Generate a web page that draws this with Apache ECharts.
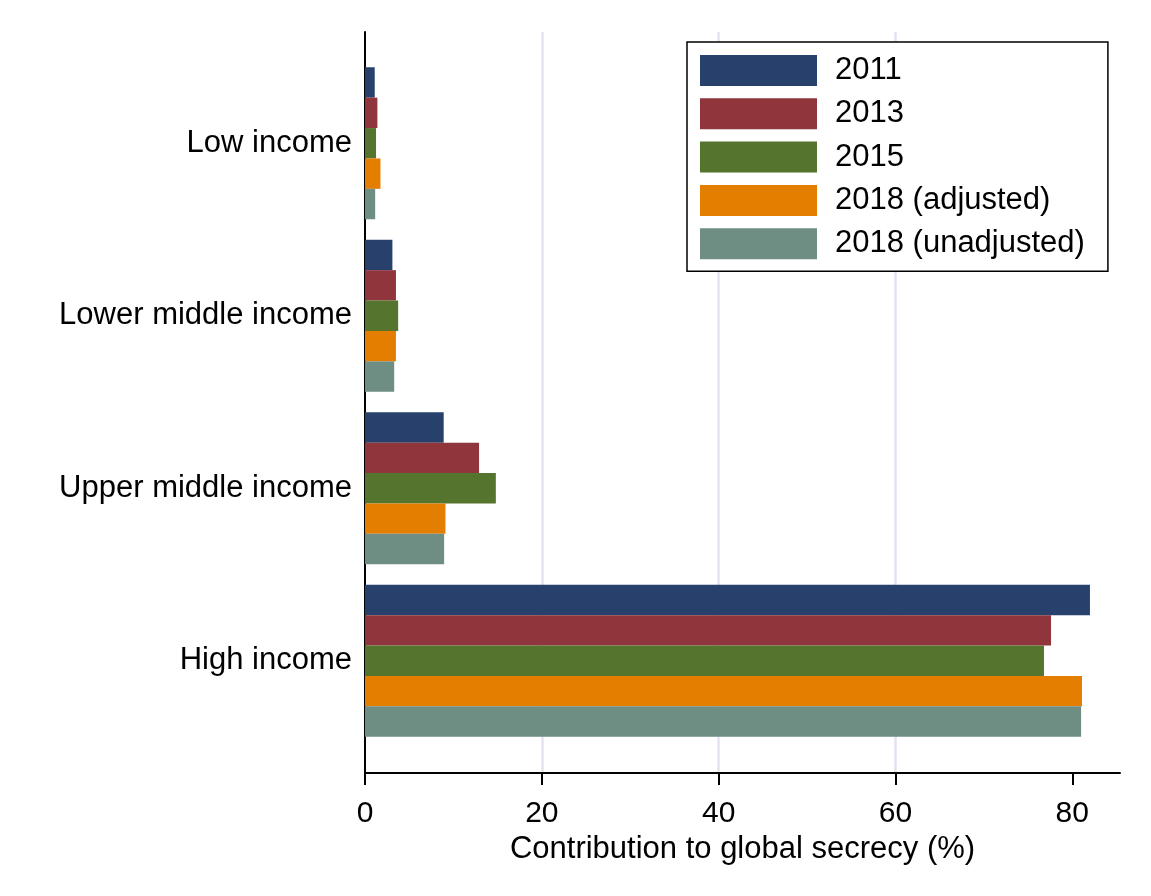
<!DOCTYPE html>
<html>
<head>
<meta charset="utf-8">
<script src="https://cdn.jsdelivr.net/npm/echarts@6/dist/echarts.min.js"></script>
<style>html,body{margin:0;padding:0;background:#fff}#c{width:1151px;height:896px}</style>
</head>
<body>
<div id="c"></div>
<script>
const categories = ['Low income', 'Lower middle income', 'Upper middle income', 'High income'];
const seriesNames = ['2011', '2013', '2015', '2018 (adjusted)', '2018 (unadjusted)'];
const v2011 = [1.1, 3.1, 8.9, 82.0];
const v2013 = [1.4, 3.5, 12.9, 77.6];
const v2015 = [1.25, 3.75, 14.8, 76.8];
const v2018adj = [1.75, 3.5, 9.1, 81.1];
const v2018unadj = [1.15, 3.3, 8.95, 81.0];
const xTicks = [0, 20, 40, 60, 80];
const axisTitle = 'Contribution to global secrecy (%)';

const values = [v2011, v2013, v2015, v2018adj, v2018unadj];
const colors = ['#27406c', '#90353b', '#55752f', '#e37e00', '#6e8e84'];
const FONT = 'Liberation Sans, Arial, sans-serif';
const XMAX = 85.4;

const chart = echarts.init(document.getElementById('c'), null, {renderer: 'canvas'});
chart.setOption({
  backgroundColor: '#fff',
  animation: false,
  textStyle: {fontFamily: FONT},
  grid: [
    {left: 365, right: 31, top: 57, bottom: 149},
    {left: 365, right: 31, top: 32, bottom: 123}
  ],
  legend: {
    orient: 'vertical',
    left: 687, top: 42,
    padding: [13, 23, 12, 13],
    borderColor: '#000', borderWidth: 1.5,
    backgroundColor: '#fff',
    itemWidth: 117, itemHeight: 31, itemGap: 12.3,
    icon: 'rect',
    data: seriesNames,
    textStyle: {fontSize: 31, color: '#000', fontFamily: FONT, padding: [4, 0, 0, 13]}
  },
  xAxis: [
    {gridIndex: 0, type: 'value', min: 0, max: XMAX, show: false},
    {gridIndex: 1, type: 'value', min: 0, max: XMAX,
      axisLine: {show: true, lineStyle: {color: '#000', width: 2}},
      axisTick: {show: true, length: 12, customValues: xTicks, lineStyle: {color: '#000', width: 2}},
      axisLabel: {show: true, customValues: xTicks, fontSize: 30, color: '#000', margin: 26, fontFamily: FONT},
      splitLine: {show: true, showMinLine: false, showMaxLine: false, lineStyle: {color: '#e2e5f0', width: 2.5}},
      name: axisTitle, nameLocation: 'middle', nameGap: 49,
      nameTextStyle: {fontSize: 31, color: '#000', fontFamily: FONT}
    }
  ],
  yAxis: [
    {gridIndex: 0, type: 'category', data: categories, inverse: true,
      axisLine: {show: false}, axisTick: {show: false},
      axisLabel: {fontSize: 31, color: '#000', margin: 13, fontFamily: FONT, padding: [9, 0, 0, 0]}},
    {gridIndex: 1, type: 'value', min: 0, max: 1,
      axisLine: {show: true, lineStyle: {color: '#000', width: 2}},
      axisTick: {show: false}, axisLabel: {show: false}, splitLine: {show: false}}
  ],
  series: seriesNames.map((n, i) => ({
    name: n, type: 'bar', xAxisIndex: 0, yAxisIndex: 0,
    data: values[i], barWidth: 30.4, barGap: '0%',
    itemStyle: {color: colors[i]}
  }))
});
</script>
</body>
</html>
